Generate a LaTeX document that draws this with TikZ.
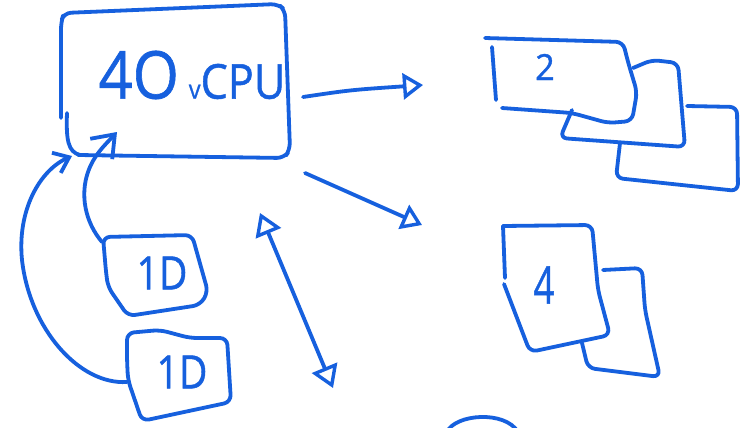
\documentclass[tikz,border=0pt]{standalone}
\usepackage{fontspec}
\setmainfont{Open Sans}
\usetikzlibrary{arrows.meta}
\definecolor{ink}{RGB}{22,96,222}
\begin{document}
\begin{tikzpicture}[x=1pt,y=-1pt,
  pen/.style={draw=ink,line width=3.8pt,line cap=round,line join=round,rounded corners=7pt},
  curve/.style={draw=ink,line width=3.8pt,line cap=round},
  tri/.style={-{Triangle[open,length=20pt,width=26pt,line width=3.4pt]}},
  barb/.style={-{Straight Barb[length=20pt,width=30pt,line width=3.8pt]}},
  lbl/.style={text=ink,inner sep=0pt,font=\addfontfeatures{FakeBold=1}}]
\useasboundingbox (0,0) rectangle (750,428);
\fill[white] (0,0) rectangle (750,428);

% main box
\draw[pen] (61,118) -- (61,22) -- (64,13) -- (278,4) -- (285,10) -- (290,150) -- (284,158) -- (78,155);
\draw[curve] (67,113) .. controls (66,140) and (68,152) .. (80,155);
\node[lbl] (cpu) at (192,75) {\scalebox{0.9}[1]{\fontsize{66}{66}\selectfont 4O\,\fontsize{26}{26}\selectfont v\fontsize{48}{48}\selectfont CPU}};

% 1D boxes
\draw[pen] (106,272) -- (103,237) -- (192,235) -- (208,292) -- (200,305) -- (128,316) -- (108,287) -- cycle;
\node[lbl] (one) at (162,273) {\scalebox{0.85}[1]{\fontsize{46}{46}\selectfont 1D}};
\draw[pen] (127,360) -- (127,333) -- (160,330) -- (190,338) -- (227,338) -- (231,402) -- (142,421) -- (128,380) -- cycle;
\node[lbl] (two) at (182,372) {\scalebox{0.85}[1]{\fontsize{46}{46}\selectfont 1D}};

% cards "2"
\draw[pen] (492,47) -- (496,100);
\draw[pen] (485,38) -- (623,42) -- (628,62) -- (637,92) -- (632,121) -- (608,123) -- (572,113) -- (502,108);
\draw[pen] (633,68) -- (652,60) -- (678,63) -- (685,147) -- (560,138) -- (572,110);
\draw[pen] (687,106) -- (737,107) -- (738,191) -- (616,178) -- (620,143);
\node[lbl] (n2) at (545,67) {\scalebox{0.95}[1]{\fontsize{36}{36}\selectfont 2}};

% cards "4"
\draw[pen] (503,226) -- (505,278);
\draw[pen] (503,226) -- (592,225) -- (598,290) -- (610,335) -- (530,352) -- (504,284);
\draw[pen] (603,270) -- (642,268) -- (645,310) -- (660,377) -- (588,368) -- (582,343);
\node[lbl] (n4) at (544,285) {\scalebox{0.7}[1]{\fontsize{52}{52}\selectfont 4}};

% bottom arc
\begin{scope}
\clip (0,0) rectangle (750,428);
\draw[curve] (447,432) .. controls (455,414) and (505,410) .. (518,432);
\end{scope}

% connector endpoints
\coordinate (a1s) at (303,97);
\coordinate (a1e) at (423,85);
\coordinate (a2s) at (305,173);
\coordinate (a2e) at (422,225);
\coordinate (dtop) at (260,213);
\coordinate (dbot) at (333,388);
\coordinate (c1s) at (102,242);
\coordinate (c1e) at (117,132);
\coordinate (c2s) at (127,382);
\coordinate (c2e) at (72,156);

\draw[curve,tri] (a1s) .. controls (350,90) .. (a1e);
\draw[curve,tri] (a2s) -- (a2e);
\draw[curve,{Triangle[open,length=22pt,width=27pt,line width=3.4pt]}-{Triangle[open,length=22pt,width=27pt,line width=3.4pt]}] (dtop) -- (dbot);
\draw[curve,barb] (c1s) .. controls (85,222) and (80,195) .. (88,172) .. controls (94,155) and (104,146) .. (c1e);
\draw[curve,-{Straight Barb[length=14pt,width=22pt,line width=3.8pt]}] (c2s) .. controls (80,385) and (30,330) .. (22,260) .. controls (17,210) and (40,170) .. (c2e);
\end{tikzpicture}
\end{document}
